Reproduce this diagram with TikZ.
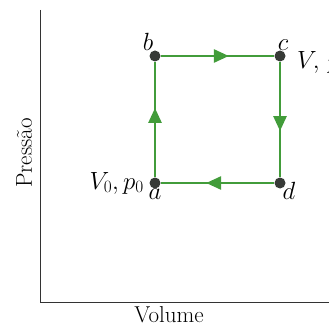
\documentclass[tikz,border=0pt]{standalone}
\usepackage{tikz}
\usetikzlibrary{positioning, arrows.meta, decorations.markings}
\definecolor{cyclegreen}{RGB}{66,156,58}
\definecolor{dotgray}{RGB}{55,58,55}

\begin{document}
\begin{tikzpicture}[x=1pt, y=1pt, font=\fontsize{23}{27}\selectfont,
            state/.style={circle, fill=dotgray, inner sep=0pt, minimum size=11pt},
            axis/.style={line width=1pt, black!80},
            path/.style={cyclegreen, line width=2.6pt, postaction={decorate},
                decoration={markings, mark=at position 0.6 with {\arrow{Triangle[length=15pt, width=13pt]}}}}]

        \useasboundingbox (0,0) rectangle (329,327);

        \coordinate (origin) at (40,25);
        \coordinate (ytop) at (40,317);
        \coordinate (xend) at (335,25);
        \draw[axis] (ytop) -- (origin) -- (xend);
        \node[below=1pt of origin, xshift=129pt, anchor=north] (xlabel) {Volume};
        \node[rotate=90] (ylabel) at (24,174) {Pressão};

        \node[state] (a) at (155,144) {};
        \node[state] (b) at (155,271) {};
        \node[state] (c) at (280,271) {};
        \node[state] (d) at (280,144) {};

        \draw[path] (a) -- (b);
        \draw[path] (b) -- (c);
        \draw[path] (c) -- (d);
        \draw[path] (d) -- (a);

        \node[below=-3pt of a] (alabel) {$a$};
        \node[above=-4pt of b, xshift=-7pt] (blabel) {$b$};
        \node[above=-4pt of c, xshift=3pt] (clabel) {$c$};
        \node[below right=-8pt and -5pt of d] (dlabel) {$d$};
        \node[left=2pt of a] (state0) {$V_0, p_0$};
        \node[right=8pt of c, yshift=-6pt] (state1) {$V,\,p$};
    \end{tikzpicture}
\end{document}
